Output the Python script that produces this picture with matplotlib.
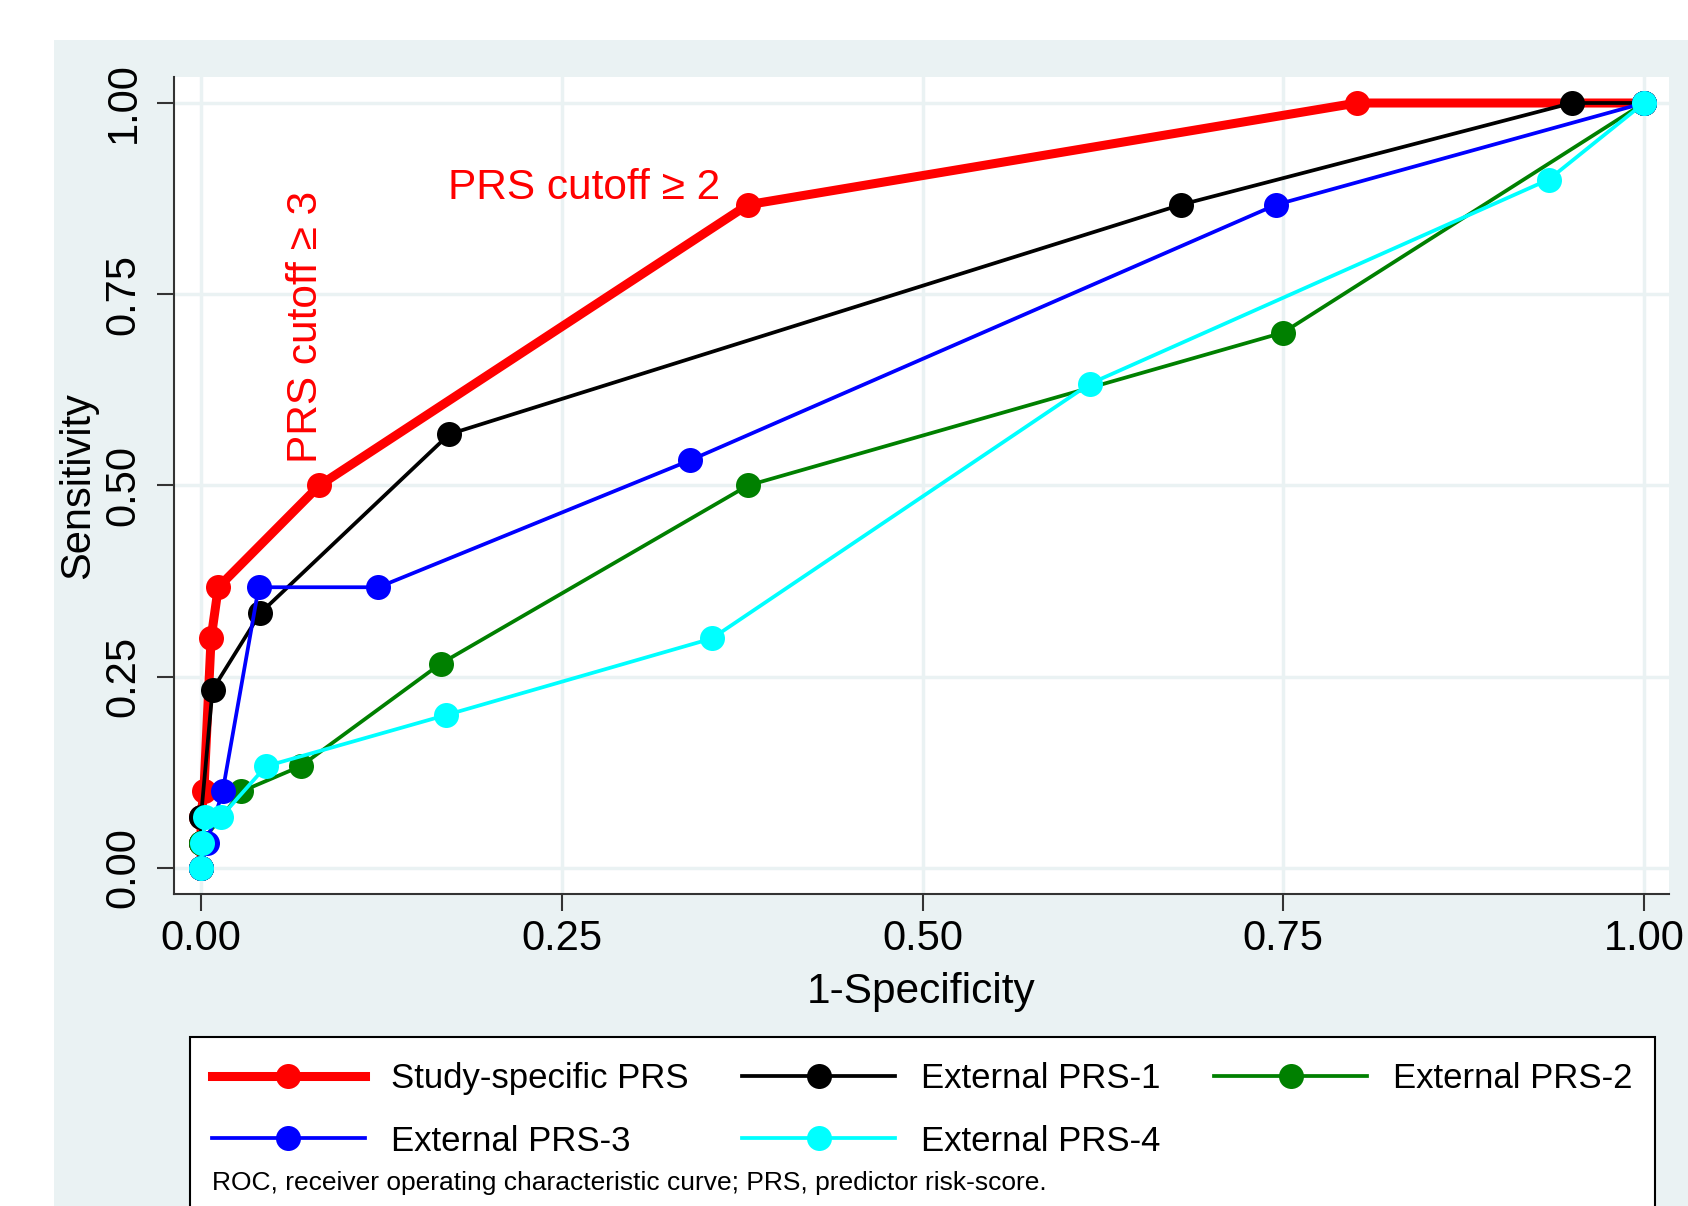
import matplotlib
matplotlib.use("Agg")
import matplotlib.pyplot as plt
from matplotlib.patches import Rectangle
from matplotlib.lines import Line2D

plt.rcParams['font.family'] = ['Liberation Sans', 'DejaVu Sans']

# ROC points (1-specificity, sensitivity)
study_x = [0.0, 0.0, 0.0, 0.002, 0.007, 0.012, 0.082, 0.379, 0.801, 1.0]
study_y = [0.0, 0.033, 0.067, 0.100, 0.300, 0.367, 0.500, 0.867, 1.000, 1.0]

ext1_x = [0.0, 0.0, 0.0, 0.008, 0.041, 0.172, 0.679, 0.950, 1.0]
ext1_y = [0.0, 0.033, 0.067, 0.233, 0.333, 0.567, 0.867, 1.000, 1.0]

ext2_x = [0.0, 0.0, 0.028, 0.069, 0.166, 0.379, 0.750, 1.0]
ext2_y = [0.0, 0.033, 0.100, 0.133, 0.267, 0.500, 0.700, 1.0]

ext3_x = [0.0, 0.004, 0.015, 0.040, 0.123, 0.339, 0.745, 1.0]
ext3_y = [0.0, 0.033, 0.100, 0.367, 0.367, 0.533, 0.867, 1.0]

ext4_x = [0.0, 0.001, 0.003, 0.014, 0.045, 0.170, 0.354, 0.616, 0.934, 1.0]
ext4_y = [0.0, 0.033, 0.067, 0.067, 0.133, 0.200, 0.300, 0.633, 0.900, 1.0]

ticks = [0.0, 0.25, 0.5, 0.75, 1.0]
tick_labels = ['0.00', '0.25', '0.50', '0.75', '1.00']

bg = '#EAF2F3'

fig = plt.figure(figsize=(16.88, 12.06), dpi=100)
fig.patch.set_facecolor('white')
fig.add_artist(Rectangle((54 / 1688, -0.1), 1.0, 1.1 - 40 / 1206,
                         transform=fig.transFigure, facecolor=bg,
                         edgecolor='none', zorder=-10))

ax = fig.add_axes([174 / 1688, 1 - 894 / 1206, (1669 - 174) / 1688, (894 - 77) / 1206])
ax.set_facecolor('white')

series = [
    (study_x, study_y, 'red', 6.5, 'Study-specific PRS'),
    (ext1_x, ext1_y, 'black', 2.7, 'External PRS-1'),
    (ext2_x, ext2_y, 'green', 2.7, 'External PRS-2'),
    (ext3_x, ext3_y, 'blue', 2.7, 'External PRS-3'),
    (ext4_x, ext4_y, 'cyan', 2.7, 'External PRS-4'),
]
# red first, the rest drawn over it
for z, (xs, ys, col, lw, lab) in enumerate(series):
    ax.plot(xs, ys, color=col, lw=lw, marker='o', markersize=18,
            markeredgewidth=0, zorder=3 + z, clip_on=False)

ax.set_xlim(-0.0187, 1.0173)
ax.set_ylim(-0.034, 1.034)
ax.set_xticks(ticks)
ax.set_xticklabels(tick_labels)
ax.set_yticks(ticks)
ax.set_yticklabels(tick_labels, rotation=90, va='center')
ax.grid(True, color=bg, lw=2.5, zorder=0)
ax.set_axisbelow(True)
for s in ['top', 'right']:
    ax.spines[s].set_visible(False)
for s in ['left', 'bottom']:
    ax.spines[s].set_color('#333333')
    ax.spines[s].set_linewidth(1.5)
ax.tick_params(axis='both', length=12, width=1.5, color='#333333',
               labelsize=30, pad=6)
ax.tick_params(axis='y', pad=10)
ax.set_xlabel('1-Specificity', fontsize=30.5, labelpad=9)
ax.set_ylabel('Sensitivity', fontsize=30, labelpad=4)

ax.text(0.171, 0.889, 'PRS cutoff \u2265 2', color='red', fontsize=30.5,
        ha='left', va='center')
ax.text(0.073, 0.53, 'PRS cutoff \u2265 3', color='red', fontsize=30.5,
        ha='center', va='bottom', rotation=90)

# legend box with note
fig.add_artist(Rectangle((190 / 1688, -0.1), (1655 - 190) / 1688, 0.1 + 1 - 1037 / 1206,
                         transform=fig.transFigure, facecolor='white',
                         edgecolor='black', lw=1.5, zorder=1, clip_on=False))
# matplotlib fills legend columns first; this order gives row-wise reading
order = [0, 3, 1, 4, 2]
handles = [Line2D([0], [0], color=series[i][2], lw=series[i][3], marker='o',
                  markersize=18, markeredgewidth=0) for i in order]
labels = [series[i][4] for i in order]
leg = fig.legend(handles, labels, ncol=3, loc='upper left',
                 bbox_to_anchor=(212 / 1688, 1 - 1062 / 1206),
                 frameon=False, fontsize=25, handlelength=4.4,
                 handletextpad=0.75, columnspacing=1.55, labelspacing=0.85,
                 borderpad=0, borderaxespad=0, numpoints=1)
leg.set_zorder(2)
fig.text(212 / 1688, 1 - 1183 / 1206,
         'ROC, receiver operating characteristic curve; PRS, predictor risk-score.',
         fontsize=19, ha='left', va='center', zorder=3)

fig.savefig('out.png', dpi=100)
